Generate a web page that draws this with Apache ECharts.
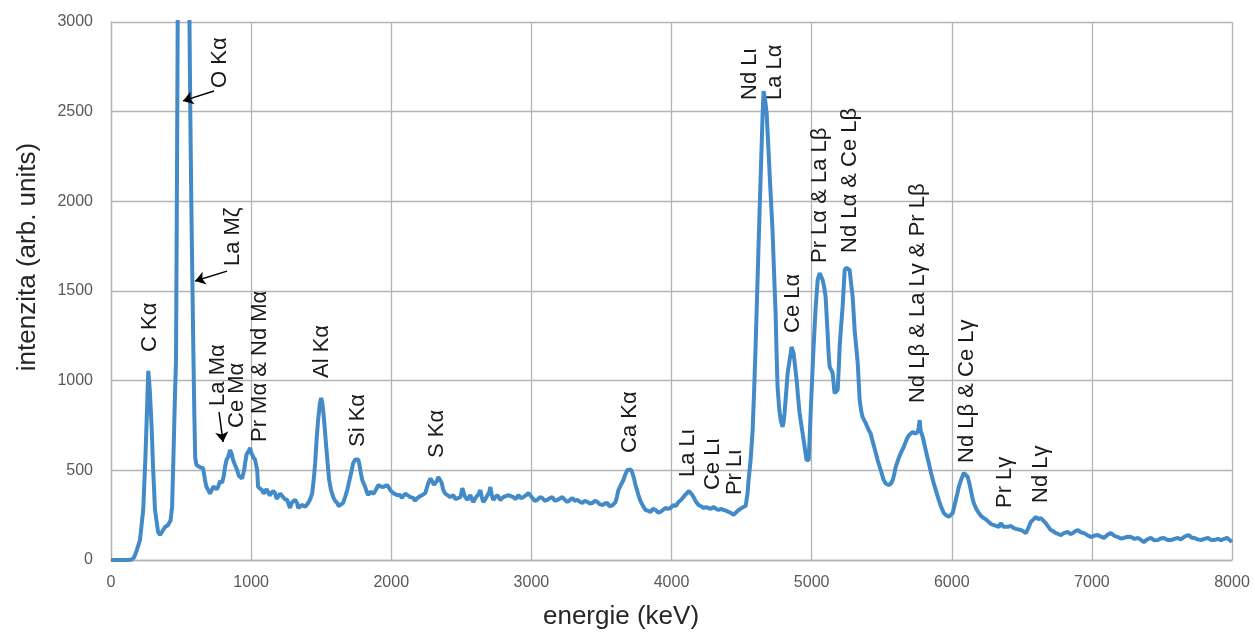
<!DOCTYPE html>
<html><head><meta charset="utf-8">
<script src="https://cdn.jsdelivr.net/npm/echarts@6/dist/echarts.min.js"></script>
<style>html,body{margin:0;padding:0;background:#fff}#c{width:1254px;height:632px}</style>
</head><body><div id="c"></div>
<script>
// Spectrum: energy (keV) and intensity (arb. units)
const energy = [0,60,120,150,165,185,207,230,245,257,266,272,278,290,300,314,336,350,364,386,407,425,436,445,457,464,470,476,485,500,520,540,552,560,566,573,580,588,595,601,610,621,640,657,671,680,693,707,721,732,743,755,764,778,793,805,814,825,836,850,862,871,885,900,912,921,935,943,950,957,968,978,993,1000,1014,1028,1043,1050,1064,1078,1090,1100,1110,1121,1132,1143,1157,1171,1182,1193,1207,1221,1240,1257,1268,1278,1290,1300,1314,1328,1336,1350,1364,1386,1407,1422,1436,1447,1457,1468,1478,1490,1500,1507,1514,1525,1536,1546,1557,1570,1586,1600,1614,1625,1636,1657,1670,1686,1707,1718,1728,1743,1757,1764,1771,1782,1793,1814,1825,1836,1850,1864,1875,1886,1896,1907,1925,1943,1957,1971,1982,1993,2014,2028,2043,2064,2075,2086,2100,2114,2136,2157,2170,2186,2200,2221,2243,2264,2280,2293,2305,2314,2325,2336,2350,2360,2371,2386,2400,2421,2443,2457,2471,2493,2500,2507,2514,2525,2543,2564,2575,2586,2600,2614,2625,2636,2646,2657,2672,2686,2700,2707,2718,2728,2743,2757,2778,2800,2814,2836,2850,2871,2890,2907,2925,2943,2960,2979,3007,3025,3043,3060,3078,3095,3114,3132,3150,3168,3186,3200,3221,3240,3257,3275,3293,3310,3328,3346,3364,3382,3400,3418,3436,3454,3471,3490,3507,3525,3543,3555,3564,3580,3600,3610,3621,3640,3657,3672,3686,3700,3710,3721,3732,3743,3754,3764,3778,3793,3814,3832,3850,3868,3886,3903,3921,3940,3957,3975,3993,4014,4030,4050,4068,4086,4100,4114,4125,4136,4146,4157,4175,4193,4210,4229,4246,4264,4282,4300,4318,4336,4354,4371,4390,4407,4425,4443,4460,4479,4493,4514,4529,4543,4550,4565,4579,4590,4600,4610,4621,4632,4643,4650,4657,4664,4672,4679,4693,4707,4721,4732,4743,4750,4757,4768,4779,4793,4800,4807,4818,4829,4843,4850,4857,4864,4871,4882,4893,4903,4914,4929,4943,4954,4964,4972,4979,4986,4993,5003,5014,5029,5043,5057,5068,5079,5090,5100,5114,5121,5129,5140,5150,5164,5175,5186,5193,5200,5210,5221,5236,5246,5257,5271,5282,5293,5307,5318,5329,5343,5354,5364,5375,5386,5396,5407,5421,5436,5450,5471,5493,5505,5514,5530,5550,5565,5579,5590,5600,5618,5636,5657,5672,5686,5700,5721,5740,5757,5764,5771,5778,5793,5814,5836,5854,5871,5890,5907,5925,5943,5960,5979,5993,6007,6018,6029,6040,6050,6068,6086,6100,6114,6125,6136,6146,6157,6175,6193,6210,6229,6246,6264,6282,6300,6318,6336,6350,6370,6400,6420,6443,6465,6493,6510,6529,6545,6564,6582,6600,6618,6636,6650,6671,6690,6707,6725,6743,6760,6779,6800,6829,6845,6864,6880,6900,6920,6943,6965,6993,7015,7043,7065,7086,7110,7136,7160,7186,7205,7229,7255,7279,7305,7329,7350,7371,7395,7421,7445,7471,7490,7514,7540,7564,7590,7614,7635,7657,7675,7693,7710,7729,7755,7779,7800,7829,7850,7871,7900,7921,7945,7964,7985,8000];
const intensity = [0,0,0,3,15,56,112,280,560,836,1055,1000,930,740,520,280,156,140,150,184,195,220,296,557,930,1115,2000,3000,4200,5000,5400,5000,4000,3000,2500,2000,1600,1150,800,570,530,520,515,513,446,410,400,370,380,410,418,395,407,440,430,470,520,560,575,613,590,557,530,502,470,463,455,457,500,540,590,602,625,600,575,560,502,407,400,390,370,373,395,380,360,362,385,373,340,351,370,362,340,335,310,290,320,323,335,318,290,300,307,296,318,340,373,450,540,680,780,870,903,880,836,740,630,540,446,390,351,330,318,300,307,318,350,390,463,500,540,560,568,560,540,490,446,407,380,362,380,390,370,373,400,418,410,407,400,418,405,390,373,380,362,362,345,351,370,362,351,346,330,346,355,362,373,429,455,446,420,429,440,463,474,430,390,370,362,351,362,340,335,351,370,401,401,355,335,362,340,323,345,351,370,390,350,323,340,351,380,407,360,335,350,362,335,351,346,362,373,351,340,362,345,351,360,373,346,330,335,350,346,330,335,345,351,330,335,345,351,335,323,335,346,330,335,325,318,330,323,315,318,330,323,310,307,315,318,300,290,305,323,350,390,420,446,480,502,513,505,485,455,418,390,362,330,307,279,275,268,285,279,265,268,280,290,285,290,307,300,323,335,351,365,373,385,380,365,351,325,307,300,290,295,290,285,296,285,279,285,279,275,268,262,251,265,279,275,296,300,373,446,560,725,950,1188,1450,1745,2030,2303,2480,2615,2585,2540,2492,2270,2050,1840,1600,1377,1150,965,850,780,742,770,820,930,1043,1115,1150,1188,1170,1154,1080,1004,910,820,740,669,610,557,550,557,680,820,1000,1188,1411,1561,1600,1580,1561,1520,1467,1266,1150,1076,1060,1043,930,920,948,1060,1188,1300,1411,1617,1630,1634,1617,1540,1467,1282,1190,1098,892,830,797,780,764,745,725,705,660,620,557,502,470,446,425,418,425,446,480,519,560,596,630,660,686,700,714,705,714,740,780,720,686,613,541,480,429,380,335,295,262,250,240,248,262,300,335,370,407,450,485,475,463,430,390,350,318,285,262,245,234,225,212,200,195,190,184,205,185,185,190,178,172,167,160,150,175,212,225,240,228,234,225,206,185,167,160,150,145,139,150,156,145,150,160,167,155,150,140,128,135,139,130,123,140,150,135,128,120,123,130,128,118,123,112,100,115,123,110,111,120,123,112,111,118,123,115,128,135,139,125,123,115,111,118,123,112,111,118,111,118,123,110,100];
const xTicks = [0,1000,2000,3000,4000,5000,6000,7000,8000];
const yTicks = [0,500,1000,1500,2000,2500,3000];
// Peak annotations: text, anchor energy, anchor intensity (bottom of the rotated text)
const labelTexts = ['C Kα','O Kα','La Mζ','La Mα','Ce Mα','Pr Mα & Nd Mα','Al Kα','Si Kα','S Kα','Ca Kα','La Lι','Ce Lι','Pr Lι','Nd Lι\nLa Lα','Ce Lα','Pr Lα & La Lβ','Nd Lα & Ce Lβ','Nd Lβ & La Lγ & Pr Lβ','Nd Lβ & Ce Lγ','Pr Lγ','Nd Lγ'];
const labelEnergy = [278,778,871,764,900,1064,1507,1764,2328,3706,4120,4298,4455,4648,4869,5062,5276,5762,6105,6383,6640];
const labelIntensity = [1160,2632,1639,859,736,658,1015,630,569,597,463,390,362,2565,1266,1656,1712,875,541,290,318];
// Arrows (from -> to), in data coordinates
const arrowFrom = [[735,2615],[828,1611],[771,825]];
const arrowTo = [[514,2560],[600,1556],[800,658]];

const chart = echarts.init(document.getElementById('c'), null, {renderer:'canvas'});
const gridColor = '#b4b4b4';
const option = {
  animation:false,
  backgroundColor:'#fff',
  grid:{left:111,right:22,top:22,bottom:72},
  xAxis:{type:'value',min:xTicks[0],max:xTicks[xTicks.length-1],interval:1000,
    axisLine:{show:true,lineStyle:{color:gridColor,width:1.3}},
    axisTick:{show:false},
    splitLine:{show:true,lineStyle:{color:gridColor,width:1.3}},
    axisLabel:{fontSize:16,color:'#595959',margin:15,fontFamily:'Liberation Sans',formatter:v=>String(v)}},
  yAxis:{type:'value',min:yTicks[0],max:yTicks[yTicks.length-1],interval:500,
    axisLine:{show:true,lineStyle:{color:gridColor,width:1.3}},
    axisTick:{show:false},
    splitLine:{show:true,lineStyle:{color:gridColor,width:1.3}},
    axisLabel:{fontSize:16,color:'#595959',margin:18,fontFamily:'Liberation Sans',formatter:v=>String(v)}},
  series:[{
    type:'line',
    data:energy.map((e,i)=>[e,intensity[i]]),
    showSymbol:false,
    clip:true,
    lineStyle:{color:'#428bc8',width:4},
    itemStyle:{color:'#428bc8'},
    markLine:{
      silent:true,
      symbol:['none','arrow'],
      symbolSize:10,
      label:{show:false},
      emphasis:{disabled:true},
      lineStyle:{color:'#000',width:1.5,type:'solid'},
      itemStyle:{color:'#000'},
      data:arrowFrom.map((f,i)=>[{coord:f},{coord:arrowTo[i]}])
    }
  }]
};
chart.setOption(option);

const graphics = labelTexts.map((t,i)=>{
  const p = chart.convertToPixel({gridIndex:0},[labelEnergy[i],labelIntensity[i]]);
  return {type:'text',x:p[0],y:p[1],rotation:Math.PI/2,silent:true,
    style:{text:t,align:'left',verticalAlign:'middle',font:'22px "Liberation Sans"',fill:'#1a1a1a',lineHeight:25}};
});
graphics.push({type:'text',x:28,y:257,rotation:Math.PI/2,silent:true,
  style:{text:'intenzita (arb. units)',align:'center',verticalAlign:'middle',font:'26px "Liberation Sans"',fill:'#262626'}});
graphics.push({type:'text',x:621,y:617,silent:true,
  style:{text:'energie (keV)',align:'center',verticalAlign:'middle',font:'26px "Liberation Sans"',fill:'#262626'}});
chart.setOption({graphic:graphics});
</script></body></html>
